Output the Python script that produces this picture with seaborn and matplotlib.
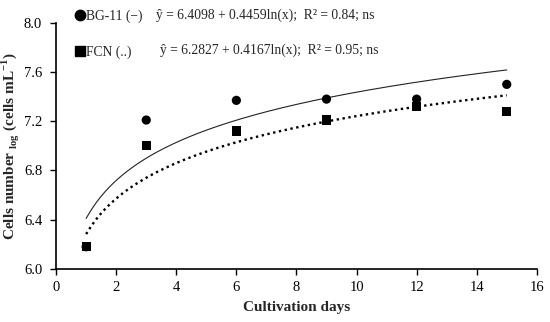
import numpy as np
import pandas as pd
import matplotlib
matplotlib.use("Agg")
import matplotlib.pyplot as plt
import seaborn as sns
from matplotlib.lines import Line2D

# --- data ---
days = [1, 3, 6, 9, 12, 15]
bg11 = [6.18, 7.21, 7.37, 7.38, 7.38, 7.50]
fcn = [6.18, 7.00, 7.12, 7.21, 7.32, 7.28]

# fitted log models printed on the chart: y = a + b*ln(x)
bg11_fit = (6.4098, 0.4459)
fcn_fit = (6.2827, 0.4167)

sns.set_theme(style="ticks")
plt.rcParams["font.family"] = ["Liberation Serif", "DejaVu Serif"]
plt.rcParams["mathtext.fontset"] = "custom"
plt.rcParams["mathtext.rm"] = "Liberation Serif"
plt.rcParams["mathtext.bf"] = "Liberation Serif:bold"

df = pd.DataFrame({"day": days * 2,
                   "cells": bg11 + fcn,
                   "medium": ["BG-11"] * len(days) + ["FCN"] * len(days)})

fig = plt.figure(figsize=(5.5, 3.22), dpi=100)
ax = fig.add_axes([0.102, 0.165, 0.874, 0.764])

# trend lines
xx = np.linspace(1, 15, 200)
sns.lineplot(x=xx, y=bg11_fit[0] + bg11_fit[1] * np.log(xx), ax=ax,
             color="#222222", lw=0.8, linestyle="-")
sns.lineplot(x=xx, y=fcn_fit[0] + fcn_fit[1] * np.log(xx), ax=ax,
             color="black", lw=1.7, linestyle=(0, (1, 1.5)))

sns.scatterplot(data=df, x="day", y="cells", style="medium",
                markers={"BG-11": "o", "FCN": "s"}, color="black",
                s=44, edgecolor="black", linewidth=0, legend=False, ax=ax, zorder=3)

ax.set_xlim(0, 16)
ax.set_ylim(6.0, 8.0)
ax.set_xticks(range(0, 17, 2))
ax.set_yticks([6.0, 6.4, 6.8, 7.2, 7.6, 8.0])
ax.yaxis.set_major_formatter(matplotlib.ticker.FormatStrFormatter("%.1f"))
ax.tick_params(axis="both", labelsize=10.5, colors="black", length=4, width=1, pad=5)
ax.tick_params(axis="y", pad=6)
for s in ["left", "bottom"]:
    ax.spines[s].set_color("black")
    ax.spines[s].set_linewidth(1.2)
sns.despine(ax=ax)

ax.set_xlabel("Cultivation days", fontsize=11, fontweight="bold", labelpad=5)
ax.set_ylabel(r"Cells number $_{\mathbf{log}}$ (cells mL$^{\mathbf{-1}}$)",
              fontsize=11, fontweight="bold")
ax.yaxis.set_label_coords(-0.072, 0.5)

# legend with equations
handles = [Line2D([], [], marker="o", color="black", lw=0, markersize=7.5),
           Line2D([], [], marker="s", color="black", lw=0, markersize=7.5)]
fig.legend(handles, ["BG-11 (\u2212)", "FCN (..)"], loc="upper left",
           bbox_to_anchor=(0.12, 1.0), frameon=False, fontsize=9.8,
           handlelength=0.6, handletextpad=0.2, labelspacing=1.65,
           borderaxespad=0.3)
fig.text(0.284, 0.953, "\u0177 = 6.4098 + 0.4459ln(x);  R\u00b2 = 0.84; ns",
         fontsize=9.8, va="center")
fig.text(0.29, 0.844, "\u0177 = 6.2827 + 0.4167ln(x);  R\u00b2 = 0.95; ns",
         fontsize=9.8, va="center")

fig.savefig("out.png", dpi=100)
